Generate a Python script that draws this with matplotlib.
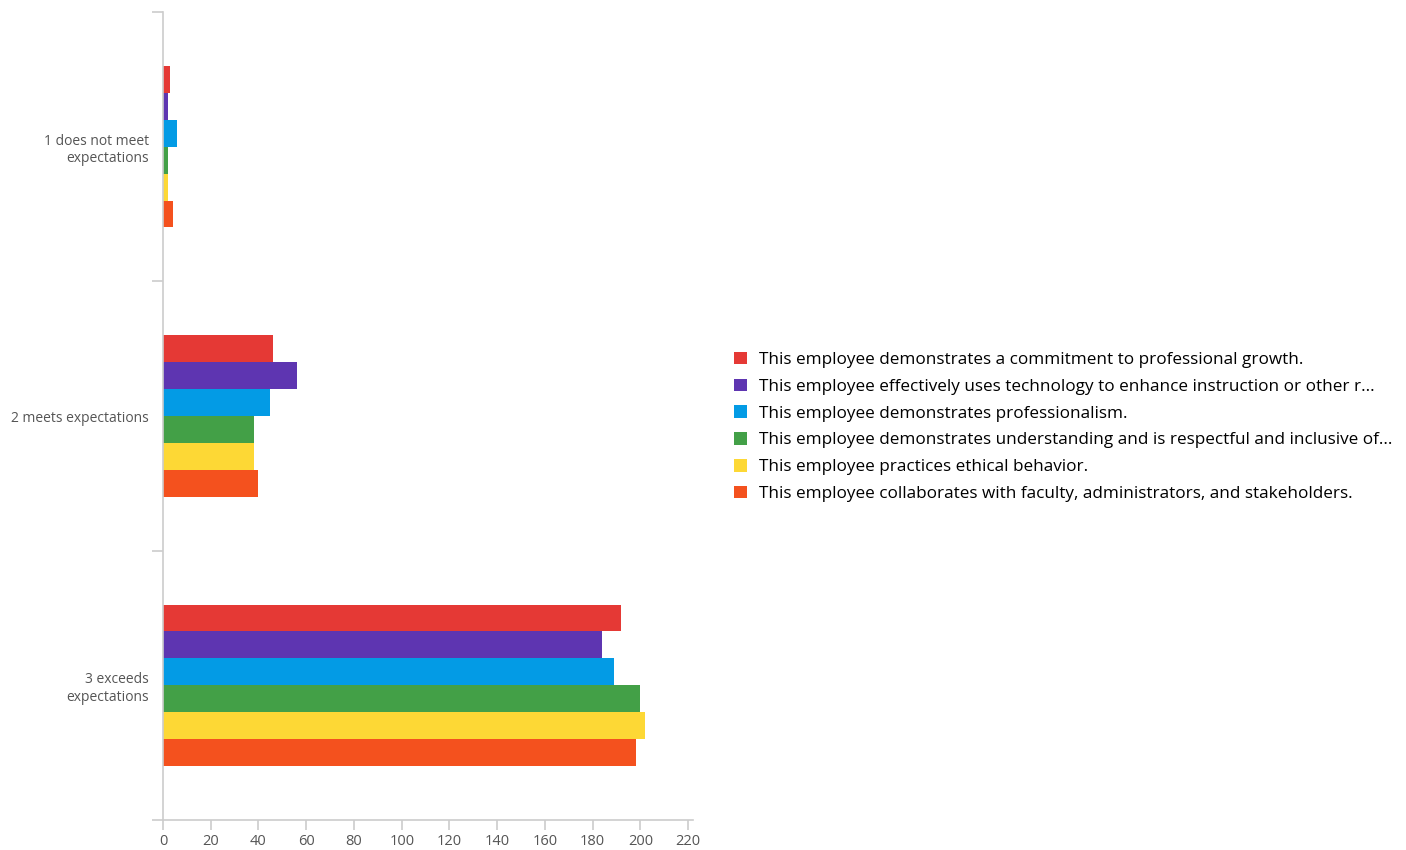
import numpy as np
import matplotlib.pyplot as plt
from matplotlib.patches import Patch
from matplotlib.ticker import FixedLocator

categories = ["1 does not meet\nexpectations", "2 meets expectations", "3 exceeds\nexpectations"]
series = [
    "This employee demonstrates a commitment to professional growth.",
    "This employee effectively uses technology to enhance instruction or other r...",
    "This employee demonstrates professionalism.",
    "This employee demonstrates understanding and is respectful and inclusive of...",
    "This employee practices ethical behavior.",
    "This employee collaborates with faculty, administrators, and stakeholders.",
]
growth = [3, 46, 192]
technology = [2, 56, 184]
professionalism = [6, 45, 189]
inclusive = [2, 38, 200]
ethical = [2, 38, 202]
collaborates = [4, 40, 198]
values = [growth, technology, professionalism, inclusive, ethical, collaborates]
colors = ["#E53935", "#5E35B1", "#039BE5", "#43A047", "#FDD835", "#F4511E"]

plt.rcParams['font.family'] = ['Open Sans', 'DejaVu Sans']

fig = plt.figure(figsize=(14.06, 8.5), dpi=100)
ax = fig.add_axes([163 / 1406, 30 / 850, 530 / 1406, 808 / 850])

bar_h = 0.1
y = np.arange(len(categories))
for i, (vals, col) in enumerate(zip(values, colors)):
    offs = (i - 2.5) * bar_h
    ax.barh(y + offs, vals, height=bar_h, color=col, linewidth=0)

ax.set_ylim(2.5, -0.5)
ax.set_xlim(0, 222)
ax.set_xticks(range(0, 221, 20))
ax.set_yticks(y)
ax.set_yticklabels(categories, ha="right", multialignment="right")
ax.yaxis.set_minor_locator(FixedLocator([-0.5, 0.5, 1.5, 2.5]))

gray = "#cccccc"
for side in ["top", "right"]:
    ax.spines[side].set_visible(False)
for side in ["left", "bottom"]:
    ax.spines[side].set_color(gray)
    ax.spines[side].set_linewidth(1.2)

ax.tick_params(axis="y", which="major", length=0, pad=10, labelsize=10, labelcolor="#555555")
ax.tick_params(axis="y", which="minor", length=8, color=gray, width=1.2)
ax.tick_params(axis="x", length=7, color=gray, width=1.2, labelsize=10.5, labelcolor="#555555", pad=3)

handles = [Patch(facecolor=c, edgecolor="none") for c in colors]
fig.legend(handles, series, loc="upper left", bbox_to_anchor=(727 / 1406, 1 - 345 / 850),
           frameon=False, fontsize=12.3, handlelength=0.75, handleheight=0.75,
           handletextpad=0.75, labelspacing=0.62, borderaxespad=0)

fig.savefig("out.png", dpi=100, facecolor="white")
